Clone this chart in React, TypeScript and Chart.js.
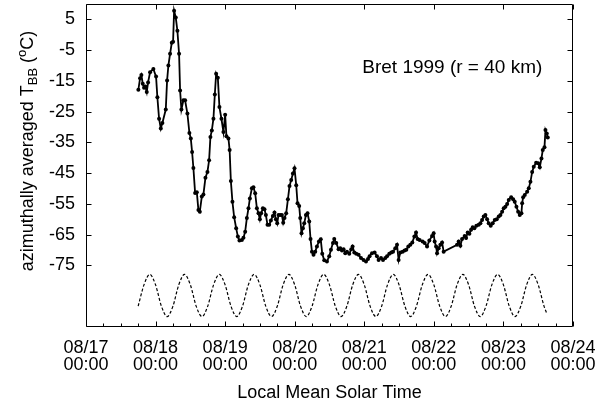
import React, { useEffect, useRef } from "react";
import { Chart, registerables } from "chart.js";
Chart.register(...registerables);

// ---------- data ----------
const dayLabels = ["08/17", "08/18", "08/19", "08/20", "08/21", "08/22", "08/23", "08/24"];
const timeLabel = "00:00";
const dayTickHours = [0, 24, 48, 72, 96, 120, 144, 168];
const yTickValues = [5, -5, -15, -25, -35, -45, -55, -65, -75];

// hours since 08/17 00:00 (local mean solar time)
const hours = [18.06,18.65,19.1,19.58,20.03,20.48,20.96,21.41,22.1,23.24,24.17,24.62,25.21,25.8,26.35,27.52,27.97,28.42,29.0,29.59,30.04,30.39,30.97,31.53,32.11,32.46,32.91,33.6,34.19,34.98,35.67,36.15,36.6,37.05,37.64,38.23,38.78,39.26,39.95,40.51,41.2,41.89,42.47,42.92,43.41,43.96,44.44,44.89,45.48,46.03,46.72,47.41,48.0,48.45,49.14,49.55,49.97,50.52,51.11,51.8,52.39,52.94,53.77,54.32,54.91,55.49,56.05,56.53,57.22,57.77,58.36,58.95,59.5,59.98,60.43,61.02,61.57,62.05,62.61,63.19,63.78,64.47,65.02,65.51,65.96,66.41,66.99,67.58,68.03,68.48,69.06,69.65,70.2,70.79,71.38,71.93,72.52,72.97,73.55,73.9,74.35,74.83,75.28,75.87,76.42,77.01,77.46,77.94,78.49,79.08,79.67,80.36,80.98,81.5,82.19,83.12,83.91,84.5,85.19,85.64,86.33,87.12,87.71,88.3,88.85,89.44,90.02,90.82,91.51,91.96,92.55,93.24,94.03,94.86,95.76,96.59,97.28,97.83,98.66,99.56,100.38,100.94,101.77,102.46,103.25,103.84,104.63,105.32,105.91,106.7,107.29,107.84,108.43,109.22,109.92,110.5,111.19,111.88,112.57,113.27,113.85,114.4,115.09,116.13,116.82,117.65,118.44,119.38,119.93,120.27,120.76,121.1,121.66,122.24,122.83,123.38,128.0,128.56,129.15,129.73,130.63,131.11,131.67,132.26,132.84,133.4,133.98,134.67,135.47,136.06,136.64,137.2,137.78,138.37,138.92,139.61,140.3,141.0,141.69,142.38,142.96,143.55,144.1,144.69,145.28,145.83,146.66,147.35,147.9,148.49,149.08,149.63,150.21,150.46,150.8,151.36,152.18,152.74,153.32,153.91,154.46,155.29,155.98,156.54,157.12,157.57,158.16,158.5,158.95,159.3];

// azimuthally averaged T_BB (deg C)
const tbb = [-17.9,-14.1,-13.1,-15.9,-17.2,-16.8,-18.6,-15.5,-12.2,-11.1,-13.6,-20.3,-27.3,-30.5,-28.7,-24.3,-14.9,-10,-6.2,-2.6,-2.3,7.8,5.6,1.3,-6.2,-18.1,-24.3,-21.3,-21.3,-25.6,-31.9,-33.7,-38.1,-43.3,-51.4,-51.2,-57,-57.5,-52.6,-51.9,-46.5,-44.6,-40.8,-33.2,-31.1,-27.3,-19.4,-12.7,-14,-23.5,-27.3,-31.6,-26,-33,-33.7,-37.5,-47.5,-54.3,-59.3,-62.9,-65.6,-66.9,-66.7,-66,-64,-59.6,-56.4,-53.2,-49.9,-49.6,-51.5,-56.4,-58,-60,-58,-56.4,-56.7,-58.6,-61.8,-61.8,-60.4,-58.9,-57.8,-60,-61.3,-58.6,-58.6,-58.6,-61.1,-59.6,-58,-53.5,-49.2,-47.2,-45.1,-43.4,-48.9,-54.8,-55.7,-59.6,-64.5,-62.9,-61.3,-58.6,-58,-60.7,-66.4,-70.5,-71.5,-70.5,-68.8,-67.2,-66.5,-71.2,-73.3,-73.7,-72,-69.9,-67.7,-66.4,-67.7,-69.7,-69.4,-70.1,-69.7,-71,-70.5,-71.2,-69.7,-68.8,-70.8,-71.2,-71.5,-72.6,-73.2,-73.7,-72.9,-72,-71,-70.8,-72,-73.2,-72.6,-73.2,-72.6,-72,-71.2,-70.8,-70.5,-69.4,-68.3,-73.2,-70.8,-70.5,-70.1,-69.9,-68.8,-68.3,-67.5,-65.6,-64.3,-66.4,-66.7,-67.2,-67.7,-68.8,-66.9,-65.4,-64.5,-67.2,-68.8,-71,-69.4,-68.3,-67.5,-70.5,-68.3,-67.2,-68.6,-66.4,-65.4,-66.1,-64.3,-64.7,-63.4,-62.6,-62.9,-62.1,-61.8,-61.3,-60.2,-59.1,-58.6,-60,-61.3,-62.1,-61.3,-60.2,-60,-59.1,-58.6,-57.5,-56.4,-55.9,-55,-53.7,-52.8,-53.5,-54.3,-55.9,-57.5,-58.6,-58,-54.8,-52.8,-52.1,-51,-49.9,-47.8,-44.6,-42.9,-41.6,-41.8,-43.1,-40.2,-37.5,-36.6,-31,-32.1,-33.4];

// diurnal reference curve (dashed)
const cycleHours = [18,20,22,24,26,28,30,32,34,36,38,40,42,44,46,48,50,52,54,56,58,60,62,64,66,68,70,72,74,76,78,80,82,84,86,88,90,92,94,96,98,100,102,104,106,108,110,112,114,116,118,120,122,124,126,128,130,132,134,136,138,140,142,144,146,148,150,152,154,156,158,159];
const cycleValues = [-88.2,-81.3,-77.9,-81.3,-88.2,-91.6,-88.2,-81.3,-77.9,-81.3,-88.2,-91.6,-88.2,-81.3,-77.9,-81.3,-88.2,-91.6,-88.2,-81.3,-77.9,-81.3,-88.2,-91.6,-88.2,-81.3,-77.9,-81.3,-88.2,-91.6,-88.2,-81.3,-77.9,-81.3,-88.2,-91.6,-88.2,-81.3,-77.9,-81.3,-88.2,-91.6,-88.2,-81.3,-77.9,-81.3,-88.2,-91.6,-88.2,-81.3,-77.9,-81.3,-88.2,-91.6,-88.2,-81.3,-77.9,-81.3,-88.2,-91.6,-88.2,-81.3,-77.9,-81.3,-88.2,-91.6,-88.2,-81.3,-77.9,-81.3,-88.2,-90.7];

const annotationText = "Bret 1999 (r = 40 km)";
const xTitle = "Local Mean Solar Time";

const FONT = "'Liberation Sans', Arial, Helvetica, sans-serif";

const decorPlugin = {
  id: "decor",
  afterDraw(chart: any) {
    const { ctx, chartArea: a, scales } = chart;
    const xs = scales.x;
    const ys = scales.y;
    ctx.save();
    ctx.strokeStyle = "#000";
    ctx.lineWidth = 1;
    const L = Math.round(a.left) + 0.5;
    const R = Math.round(a.right) - 0.5;
    const T = Math.round(a.top) + 0.5;
    const B = Math.round(a.bottom) - 0.5;
    ctx.beginPath();
    ctx.rect(L, T, R - L, B - T);
    ctx.stroke();
    ctx.beginPath();
    // x ticks
    for (let h = 0; h <= 168; h += 6) {
      const px = Math.round(xs.getPixelForValue(h)) + 0.5;
      const major = h % 24 === 0;
      const len = major ? 5 : 3;
      ctx.moveTo(px, B);
      ctx.lineTo(px, B - len);
      if (major) {
        ctx.moveTo(px, T);
        ctx.lineTo(px, T + 5);
      }
    }
    // y ticks
    for (const v of yTickValues) {
      const py = Math.round(ys.getPixelForValue(v)) + 0.5;
      ctx.moveTo(L, py);
      ctx.lineTo(L + 5, py);
      ctx.moveTo(R, py);
      ctx.lineTo(R - 5, py);
    }
    ctx.stroke();

    ctx.fillStyle = "#000";
    // annotation
    ctx.font = `19px ${FONT}`;
    ctx.textAlign = "left";
    ctx.textBaseline = "alphabetic";
    ctx.fillText(annotationText, xs.getPixelForValue(95.3), ys.getPixelForValue(-12.5));

    // x title
    ctx.font = `18px ${FONT}`;
    ctx.textAlign = "center";
    ctx.fillText(xTitle, (a.left + a.right) / 2, 398);

    // y title with sub/superscripts
    const parts = [
      { t: "azimuthally averaged T", size: 18, dy: 0 },
      { t: "BB", size: 13, dy: 4 },
      { t: " (", size: 18, dy: 0 },
      { t: "o", size: 13, dy: -7 },
      { t: "C)", size: 18, dy: 0 },
    ];
    let total = 0;
    const widths: number[] = [];
    for (const p of parts) {
      ctx.font = `${p.size}px ${FONT}`;
      const w = ctx.measureText(p.t).width;
      widths.push(w);
      total += w;
    }
    ctx.translate(33, 151);
    ctx.rotate(-Math.PI / 2);
    ctx.textAlign = "left";
    let cx = -total / 2;
    parts.forEach((p, i) => {
      ctx.font = `${p.size}px ${FONT}`;
      ctx.fillText(p.t, cx, p.dy);
      cx += widths[i];
    });
    ctx.restore();
  },
};

export default function App() {
  const ref = useRef<HTMLCanvasElement | null>(null);
  useEffect(() => {
    document.body.style.margin = "0";
    const canvas = ref.current;
    if (!canvas) return;
    const mainData = hours.map((h, i) => ({ x: h, y: tbb[i] }));
    const cycleData = cycleHours.map((h, i) => ({ x: h, y: cycleValues[i] }));
    const chart = new Chart(canvas, {
      type: "line",
      data: {
        datasets: [
          {
            data: mainData,
            borderColor: "#000",
            borderWidth: 1.8,
            pointRadius: 2,
            pointBackgroundColor: "#000",
            pointBorderColor: "#000",
            pointBorderWidth: 0,
            tension: 0,
          },
          {
            data: cycleData,
            borderColor: "#000",
            borderWidth: 1.2,
            borderDash: [3, 2],
            pointRadius: 0,
            cubicInterpolationMode: "monotone",
          },
        ],
      },
      options: {
        animation: false,
        responsive: false,
        devicePixelRatio: 1,
        layout: { padding: { top: 3, right: 35, left: 0, bottom: 0 } },
        plugins: { legend: { display: false }, tooltip: { enabled: false } },
        scales: {
          x: {
            type: "linear",
            min: 0,
            max: 168,
            grid: { display: false, drawTicks: false },
            border: { display: false },
            afterBuildTicks: (s: any) => {
              s.ticks = dayTickHours.map((v) => ({ value: v }));
            },
            afterFit: (s: any) => {
              s.height = 77;
              s.paddingLeft = 0;
              s.paddingRight = 0;
            },
            ticks: {
              autoSkip: false,
              maxRotation: 0,
              minRotation: 0,
              padding: 13,
              color: "#000",
              font: { family: FONT, size: 18, lineHeight: "17px" },
              callback: (v: any) => [dayLabels[Math.round(Number(v) / 24)], timeLabel],
            },
          },
          y: {
            type: "linear",
            min: -95,
            max: 10,
            grid: { display: false, drawTicks: false },
            border: { display: false },
            afterBuildTicks: (s: any) => {
              s.ticks = yTickValues.map((v) => ({ value: v }));
            },
            afterFit: (s: any) => {
              s.width = 86;
              s.paddingTop = 0;
              s.paddingBottom = 0;
            },
            ticks: {
              autoSkip: false,
              padding: 11,
              color: "#000",
              font: { family: FONT, size: 18 },
              callback: (v: any) => String(v),
            },
          },
        },
      },
      plugins: [decorPlugin],
    });
    return () => chart.destroy();
  }, []);
  return <canvas ref={ref} width={608} height={404} style={{ display: "block" }} />;
}
